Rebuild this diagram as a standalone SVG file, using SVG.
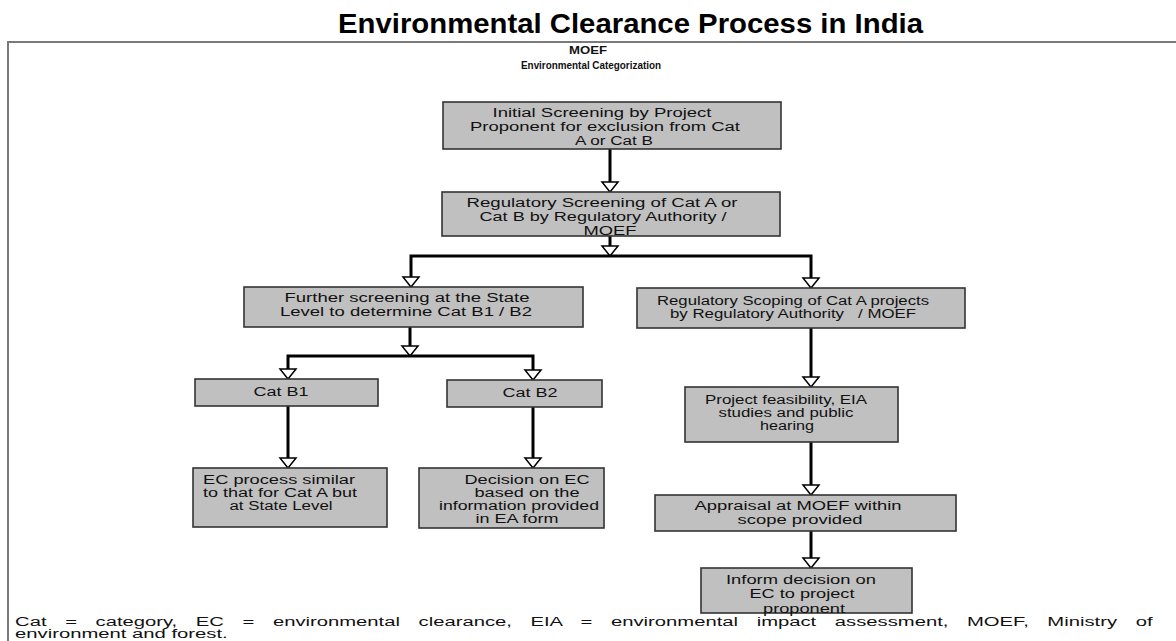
<svg xmlns="http://www.w3.org/2000/svg" width="1176" height="641" viewBox="0 0 1176 641">
<style>
.box{fill:#c0c0c0;stroke:#333333;stroke-width:1.6}
.t{font-family:"Liberation Sans",Arial,sans-serif;font-size:12px;fill:#111111;text-anchor:middle}
.h{font-family:"Liberation Sans",Arial,sans-serif;font-size:10.5px;font-weight:bold;fill:#111111;text-anchor:middle}
.f{font-family:"Liberation Sans",Arial,sans-serif;font-size:12.5px;fill:#111111}
.c{fill:none;stroke:#000000;stroke-width:3;stroke-linejoin:miter}
</style>
<defs>
<marker id="ah" viewBox="0 0 11 17" refX="10.5" refY="8.5" markerWidth="11" markerHeight="17" markerUnits="userSpaceOnUse" orient="auto" overflow="visible">
<path d="M0.5,0.5 L10.5,8.5 L0.5,16.5 Z" fill="#ffffff" stroke="#000000" stroke-width="1.5"/>
</marker>
</defs>
<rect width="1176" height="641" fill="#ffffff"/>
<text x="338" y="33" font-family="Liberation Sans,Arial,sans-serif" font-size="28" font-weight="bold" fill="#000000" textLength="585" lengthAdjust="spacingAndGlyphs">Environmental Clearance Process in India</text>
<g id="frame" stroke="#7a7a7a" stroke-width="2" fill="none">
<path d="M8,641 V42 H1176"/>
</g>
<g id="header">
<text class="h" x="588" y="54" textLength="38" lengthAdjust="spacingAndGlyphs">MOEF</text>
<text class="h" x="591" y="69" textLength="140" lengthAdjust="spacingAndGlyphs">Environmental Categorization</text>
</g>
<g id="connectors">
<path class="c" d="M610,149 V192" marker-end="url(#ah)"/>
<path class="c" d="M610,236 V256" marker-end="url(#ah)"/>
<path class="c" d="M610,256 H411 V287" marker-end="url(#ah)"/>
<path class="c" d="M610,256 H811 V288" marker-end="url(#ah)"/>
<path class="c" d="M410,327 V356" marker-end="url(#ah)"/>
<path class="c" d="M410,356 H288 V379" marker-end="url(#ah)"/>
<path class="c" d="M410,356 H533 V380" marker-end="url(#ah)"/>
<path class="c" d="M288,406 V468" marker-end="url(#ah)"/>
<path class="c" d="M533,407 V468" marker-end="url(#ah)"/>
<path class="c" d="M811,328 V387" marker-end="url(#ah)"/>
<path class="c" d="M811,442 V495" marker-end="url(#ah)"/>
<path class="c" d="M811,531 V568" marker-end="url(#ah)"/>
</g>
<g id="n1">
<rect class="box" x="443" y="102" width="338" height="47"/>
<text class="t" x="602" y="117" textLength="219" lengthAdjust="spacingAndGlyphs">Initial Screening by Project</text>
<text class="t" x="605" y="131" textLength="270" lengthAdjust="spacingAndGlyphs">Proponent for exclusion from Cat</text>
<text class="t" x="614" y="145" textLength="78" lengthAdjust="spacingAndGlyphs">A or Cat B</text>
</g>
<g id="n2">
<rect class="box" x="442" y="192" width="338" height="44"/>
<text class="t" x="602" y="207" textLength="271" lengthAdjust="spacingAndGlyphs">Regulatory Screening of Cat A or</text>
<text class="t" x="603" y="221" textLength="247" lengthAdjust="spacingAndGlyphs">Cat B by Regulatory Authority /</text>
<text class="t" x="610" y="235" textLength="53" lengthAdjust="spacingAndGlyphs">MOEF</text>
</g>
<g id="n3">
<rect class="box" x="244" y="287" width="339" height="40"/>
<text class="t" x="407" y="302" textLength="245" lengthAdjust="spacingAndGlyphs">Further screening at the State</text>
<text class="t" x="406" y="316" textLength="252" lengthAdjust="spacingAndGlyphs">Level to determine Cat B1 / B2</text>
</g>
<g id="n4">
<rect class="box" x="637" y="288" width="328" height="40"/>
<text class="t" x="793" y="305" textLength="272" lengthAdjust="spacingAndGlyphs">Regulatory Scoping of Cat A projects</text>
<text class="t" x="793" y="318" textLength="246" lengthAdjust="spacingAndGlyphs" xml:space="preserve" style="white-space:pre">by Regulatory Authority   / MOEF</text>
</g>
<g id="n5">
<rect class="box" x="195" y="379" width="183" height="27"/>
<text class="t" x="281" y="396" textLength="55" lengthAdjust="spacingAndGlyphs">Cat B1</text>
</g>
<g id="n6">
<rect class="box" x="447" y="380" width="155" height="27"/>
<text class="t" x="530" y="397" textLength="55" lengthAdjust="spacingAndGlyphs">Cat B2</text>
</g>
<g id="n7">
<rect class="box" x="193" y="468" width="194" height="59"/>
<text class="t" x="279" y="484" textLength="152" lengthAdjust="spacingAndGlyphs">EC process similar</text>
<text class="t" x="280" y="497" textLength="154" lengthAdjust="spacingAndGlyphs">to that for Cat A but</text>
<text class="t" x="281" y="510" textLength="103" lengthAdjust="spacingAndGlyphs">at State Level</text>
</g>
<g id="n8">
<rect class="box" x="419" y="468" width="185" height="60"/>
<text class="t" x="527" y="484" textLength="125" lengthAdjust="spacingAndGlyphs">Decision on EC</text>
<text class="t" x="527" y="497" textLength="105" lengthAdjust="spacingAndGlyphs">based on the</text>
<text class="t" x="519" y="510" textLength="160" lengthAdjust="spacingAndGlyphs">information provided</text>
<text class="t" x="517" y="523" textLength="83" lengthAdjust="spacingAndGlyphs">in EA form</text>
</g>
<g id="n9">
<rect class="box" x="685" y="387" width="213" height="55"/>
<text class="t" x="786" y="404" textLength="162" lengthAdjust="spacingAndGlyphs">Project feasibility, EIA</text>
<text class="t" x="786" y="417" textLength="135" lengthAdjust="spacingAndGlyphs">studies and public</text>
<text class="t" x="787" y="430" textLength="54" lengthAdjust="spacingAndGlyphs">hearing</text>
</g>
<g id="n10">
<rect class="box" x="655" y="495" width="301" height="36"/>
<text class="t" x="798" y="510" textLength="207" lengthAdjust="spacingAndGlyphs">Appraisal at MOEF within</text>
<text class="t" x="800" y="524" textLength="125" lengthAdjust="spacingAndGlyphs">scope provided</text>
</g>
<g id="n11">
<rect class="box" x="701" y="568" width="211" height="45"/>
<text class="t" x="801" y="584" textLength="150" lengthAdjust="spacingAndGlyphs">Inform decision on</text>
<text class="t" x="802" y="598" textLength="105" lengthAdjust="spacingAndGlyphs">EC to project</text>
<text class="t" x="804" y="613" textLength="82" lengthAdjust="spacingAndGlyphs">proponent</text>
</g>
<g id="footer" transform="scale(1.62,1)">
<text class="f" x="9.3" y="626" word-spacing="8">Cat = category, EC = environmental clearance, EIA = environmental impact assessment, MOEF, Ministry of</text>
<text class="f" x="9.3" y="638.5">environment and forest.</text>
</g>
</svg>
